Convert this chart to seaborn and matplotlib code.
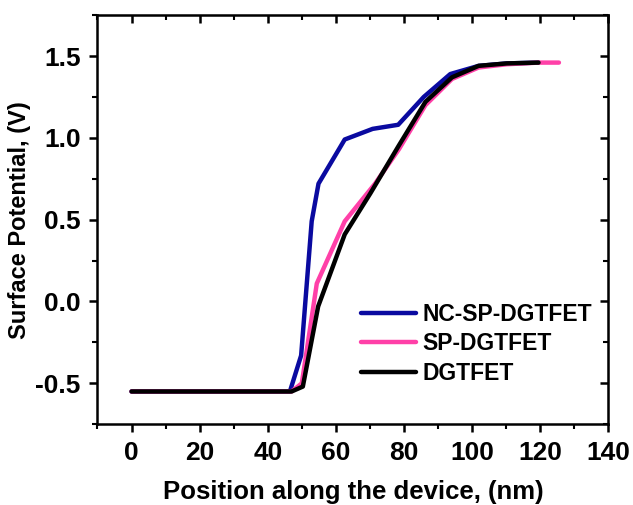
import pandas as pd
import matplotlib
matplotlib.use('Agg')
import matplotlib.pyplot as plt
import seaborn as sns
from matplotlib.ticker import MultipleLocator

# Données : position (nm) et potentiel de surface (V)
nc_x = [0, 46.5, 49.8, 52.9, 54.9, 62.6, 70.8, 78.3, 85.8, 93.6, 101.9, 110.2, 119.5]
nc_y = [-0.55, -0.55, -0.33, 0.49, 0.72, 0.99, 1.055, 1.08, 1.25, 1.39, 1.44, 1.455, 1.46]

sp_x = [0, 47, 50, 54.4, 62.6, 71.5, 78.5, 86.3, 94.1, 101.9, 110.2, 119.5, 125.5]
sp_y = [-0.55, -0.55, -0.50, 0.11, 0.49, 0.72, 0.93, 1.20, 1.36, 1.43, 1.45, 1.46, 1.46]

dg_x = [0, 47, 50.3, 54.8, 62.6, 70.1, 78.4, 86.3, 94.1, 101.9, 110.2, 119.5]
dg_y = [-0.55, -0.55, -0.52, -0.03, 0.41, 0.66, 0.95, 1.22, 1.37, 1.44, 1.455, 1.46]

labels = ['NC-SP-DGTFET', 'SP-DGTFET', 'DGTFET']
colors = ['#0A0AA0', '#FF40A8', '#000000']

df = pd.concat([
    pd.DataFrame({'x': nc_x, 'y': nc_y, 'device': labels[0]}),
    pd.DataFrame({'x': sp_x, 'y': sp_y, 'device': labels[1]}),
    pd.DataFrame({'x': dg_x, 'y': dg_y, 'device': labels[2]}),
])

sns.set_style('ticks')
plt.rcParams['font.family'] = ['Liberation Sans', 'DejaVu Sans']
plt.rcParams['font.weight'] = 'bold'
plt.rcParams['axes.labelweight'] = 'bold'
for key in ['text.color', 'axes.labelcolor', 'xtick.color', 'ytick.color', 'axes.edgecolor']:
    plt.rcParams[key] = 'black'

fig = plt.figure(figsize=(6.33, 5.05), dpi=100)
ax = fig.add_axes([0.154, 0.160, 0.807, 0.810])

# ordre de tracé : le noir passe au-dessus
for dev, col, z in zip(labels, colors, [2, 3, 4]):
    sns.lineplot(data=df[df['device'] == dev], x='x', y='y', color=col,
                 linewidth=3.2, label=dev, ax=ax, zorder=z, sort=False,
                 estimator=None)

ax.set_xlim(-10, 140)
ax.set_ylim(-0.75, 1.75)
ax.xaxis.set_major_locator(MultipleLocator(20))
ax.xaxis.set_minor_locator(MultipleLocator(10))
ax.yaxis.set_major_locator(MultipleLocator(0.5))
ax.yaxis.set_minor_locator(MultipleLocator(0.25))
ax.set_yticks([-0.5, 0.0, 0.5, 1.0, 1.5])
ax.set_yticklabels(['-0.5', '0.0', '0.5', '1.0', '1.5'])

ax.tick_params(which='major', direction='out', length=6, width=1.8,
               labelsize=19, pad=6)
ax.tick_params(which='minor', direction='out', length=3.5, width=1.5)
for s in ax.spines.values():
    s.set_linewidth(1.8)

# graduations miroir vers l'intérieur en haut et à droite
top = ax.secondary_xaxis('top')
top.xaxis.set_major_locator(MultipleLocator(20))
top.xaxis.set_minor_locator(MultipleLocator(10))
top.tick_params(which='major', direction='in', length=6, width=1.8, labeltop=False)
top.tick_params(which='minor', direction='in', length=3.5, width=1.5)
right = ax.secondary_yaxis('right')
right.yaxis.set_major_locator(MultipleLocator(0.5))
right.yaxis.set_minor_locator(MultipleLocator(0.25))
right.tick_params(which='major', direction='in', length=6, width=1.8, labelright=False)
right.tick_params(which='minor', direction='in', length=3.5, width=1.5)

ax.set_xlabel('Position along the device, (nm)', fontsize=18.5, labelpad=11)
ax.set_ylabel('Surface Potential, (V)', fontsize=17, labelpad=3)

ax.legend(loc='upper left', bbox_to_anchor=(0.515, 0.297), frameon=False,
          fontsize=16.5, handlelength=2.4, handletextpad=0.3,
          labelspacing=0.28, borderpad=0, borderaxespad=0)

plt.savefig('out.png', dpi=100)
